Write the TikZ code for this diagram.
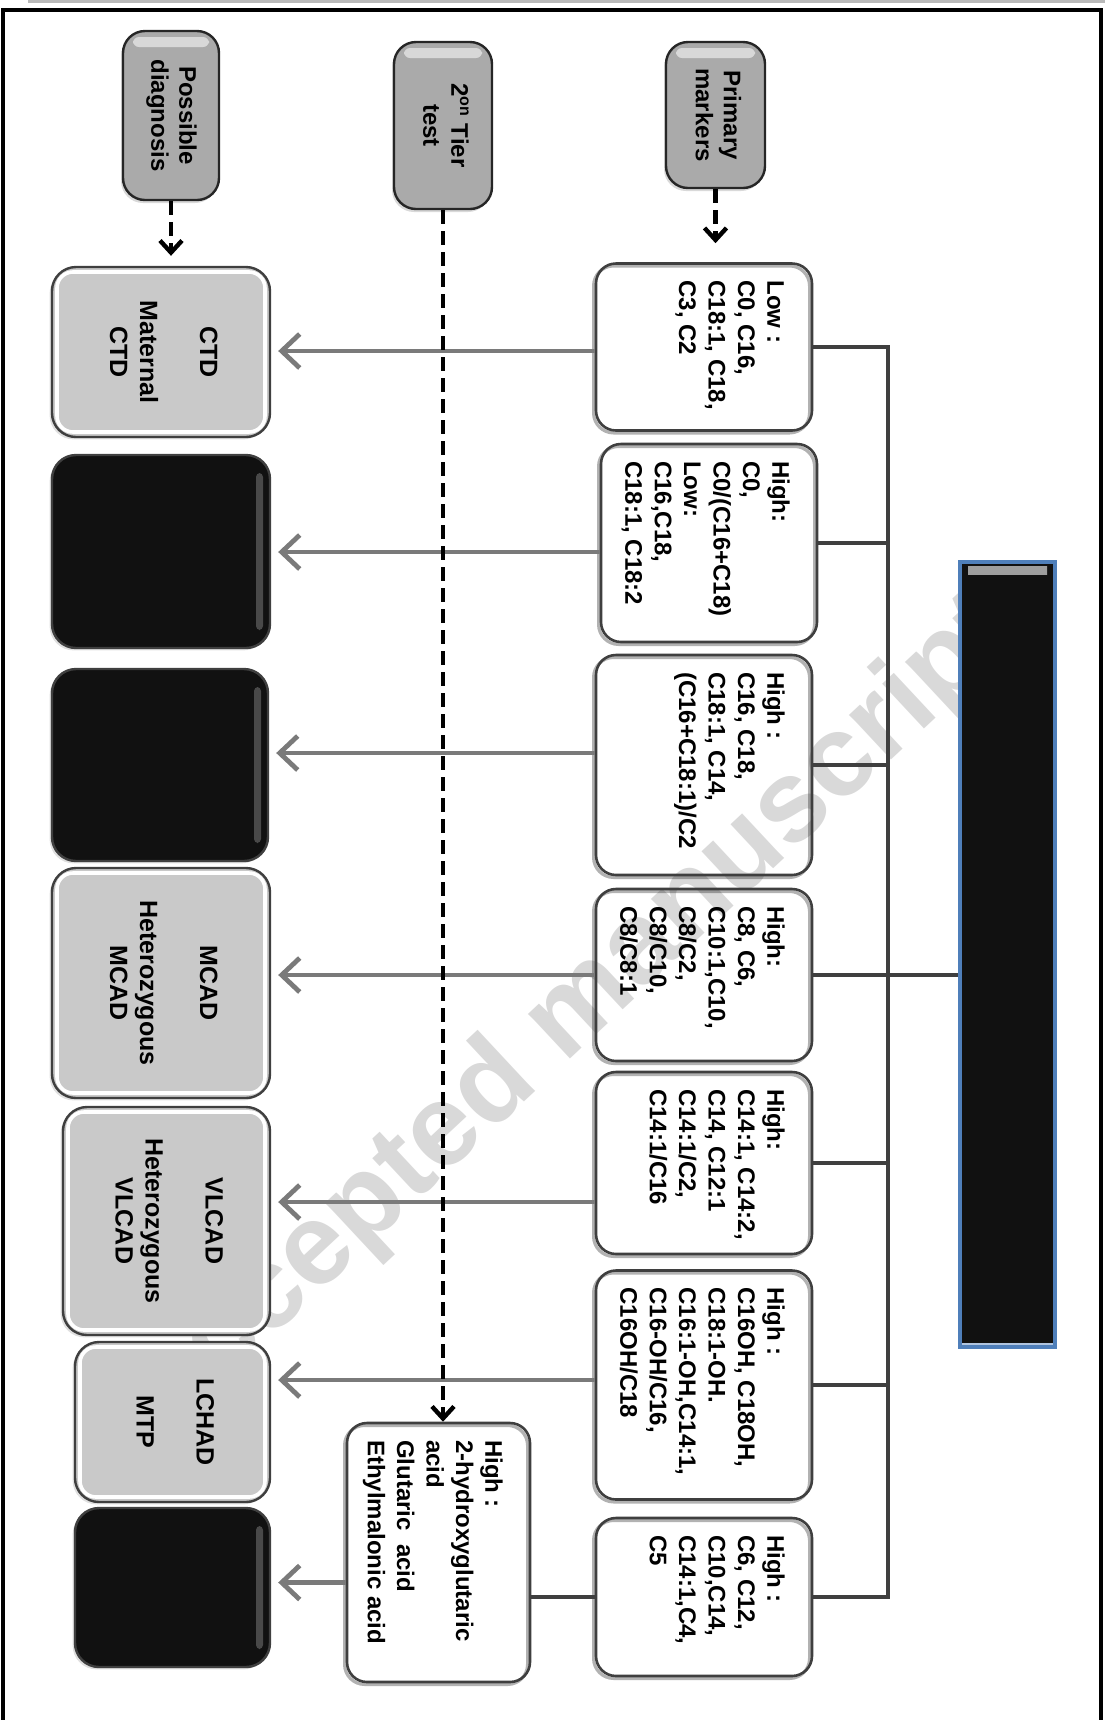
\documentclass[tikz,border=0pt]{standalone}
\usepackage{fontspec}
\setmainfont{Liberation Sans}
\usepackage{tikz}
\usetikzlibrary{arrows.meta,calc,shadows}
\usepackage{xcolor}
\definecolor{ink}{HTML}{111111}
\definecolor{rim}{HTML}{3F3F3F}
\definecolor{cap}{HTML}{AAAAAA}
\definecolor{dx}{HTML}{C9C9C9}
\definecolor{edge}{HTML}{4F7FBA}
\definecolor{wm}{HTML}{D9D9D9}
\newcommand{\mtext}[3]{\rotatebox{-90}{\parbox[c][#2][t]{#1}{\begin{tabular}[t]{@{}l@{}}#3\end{tabular}}}}
\newcommand{\dtext}[1]{\rotatebox{-90}{\begin{tabular}{@{}c@{}}#1\end{tabular}}}
\tikzset{header/.style={draw=black!85,line width=1.2pt,fill=cap,rounded corners=11pt,inner sep=0pt,font=\fontsize{12}{14}\selectfont\bfseries,drop shadow={shadow xshift=-1pt,shadow yshift=-1.5pt,opacity=.3},path picture={\fill[white,opacity=.55,rounded corners=3pt] ($(path picture bounding box.north west)+(5pt,-3pt)$) rectangle ($(path picture bounding box.north east)+(-5pt,-8pt)$);}},
 marker/.style={draw=rim,line width=1.3pt,rounded corners=10pt,inner xsep=12pt,inner ysep=8.5pt,font=\fontsize{12}{14.7}\selectfont\bfseries,drop shadow={shadow xshift=-1.2pt,shadow yshift=-1.2pt,opacity=.3,fill=none,draw=black,line width=1.6pt}},
 dxbox/.style={draw=rim,line width=1.2pt,fill=dx,rounded corners=12pt,inner sep=0pt,font=\fontsize{12.5}{15}\selectfont\bfseries,drop shadow={shadow xshift=-1.2pt,shadow yshift=-1.2pt,opacity=.25},path picture={\draw[white,line width=1.8pt,rounded corners=8pt] ($(path picture bounding box.south west)+(2.5pt,2.5pt)$) rectangle ($(path picture bounding box.north east)+(-2.5pt,-2.5pt)$);}},
 dxdark/.style={dxbox,fill=ink,path picture={\fill[gray!60,opacity=.35,rounded corners=2pt] ($(path picture bounding box.north east)+(-7pt,-9pt)$) rectangle ($(path picture bounding box.south east)+(-3.5pt,9pt)$);}},
 big/.style={draw=edge,line width=1.6pt,fill=ink,minimum width=47.5pt,minimum height=392.5pt,path picture={\shade[top color=gray!75,bottom color=ink] ($(path picture bounding box.north west)+(4pt,-2pt)$) rectangle ($(path picture bounding box.north east)+(-4pt,-6pt)$); \fill[edge!45] (path picture bounding box.south west) rectangle ($(path picture bounding box.south east)+(0pt,2pt)$);}},
 link/.style={draw=rim,line width=1.7pt},
 arr/.style={draw=black!52,line width=2.4pt,shorten >=3.5pt,-{Straight Barb[length=9pt,width=17pt]}},
 dasharr/.style={line width=2.2pt,dash pattern=on 7pt off 3.5pt,-{Straight Barb[length=6pt,width=11pt]}},
 wmtext/.style={text=wm,font=\fontsize{58}{60}\selectfont\bfseries,rotate=43}}
\begin{document}
\begin{tikzpicture}[x=.5pt,y=-.5pt]
\useasboundingbox (0,0) rectangle (1105,1720);
% frame
\draw[gray!55,line width=1.5pt] (28,1.5) -- (1105,1.5);
\draw[line width=2.2pt] (3,1720) -- (3,10) -- (1101,10) -- (1101,1720);
% watermark, under the boxes
\node[wmtext] (wm) at (570,1018) {Accepted manuscript};
% column headers
\node[header,minimum width=48pt,minimum height=84.5pt] (hPD) at (171,115.5) {\dtext{Possible\\ diagnosis}};
\node[header,minimum width=49pt,minimum height=83.5pt] (h2T) at (443,125.5) {\dtext{2\textsuperscript{on} Tier\\ test}};
\node[header,minimum width=49.5pt,minimum height=73pt] (hPM) at (715.5,115) {\dtext{Primary\\ markers}};
% primary markers
\node[marker] (m1) at (704,347) {\mtext{66.5pt}{84pt}{Low :\\ C0, C16,\\ C18:1, C18,\\ C3, C2}};
\node[marker] (m2) at (709,543) {\mtext{82pt}{84pt}{High:\\ C0,\\ C0/(C16+C18)\\ Low:\\ C16,C18,\\ C18:1, C18:2}};
\node[marker] (m3) at (704,765) {\mtext{93pt}{84pt}{High :\\ C16, C18,\\ C18:1, C14,\\ (C16+C18:1)/C2}};
\node[marker] (m4) at (704,975) {\mtext{69pt}{84pt}{High:\\ C8, C6,\\ C10:1,C10,\\ C8/C2,\\ C8/C10,\\ C8/C8:1}};
\node[marker] (m5) at (704,1163) {\mtext{74pt}{84pt}{High:\\ C14:1, C14:2,\\ C14, C12:1\\ C14:1/C2,\\ C14:1/C16}};
\node[marker] (m6) at (704,1385) {\mtext{97.5pt}{84pt}{High :\\ C16OH, C18OH,\\ C18:1-OH.\\ C16:1-OH,C14:1,\\ C16-OH/C16,\\ C16OH/C18}};
\node[marker] (m7) at (704,1597) {\mtext{62pt}{84pt}{High :\\ C6, C12,\\ C10,C14,\\ C14:1,C4,\\ C5}};
% second tier
\node[marker] (t2) at (438.5,1552.5) {\mtext{112.5pt}{67.5pt}{High :\\ 2-hydroxyglutaric\\ acid\\ Glutaric\ \ acid\\ Ethylmalonic acid}};
% diagnosis
\node[dxbox,minimum width=109pt,minimum height=85pt] (d1) at (161,352) {\dtext{CTD\\ \\ Maternal\\ CTD}};
\node[dxdark,minimum width=109pt,minimum height=96.5pt] (d2) at (161,551.5) {};
\node[dxdark,minimum width=108pt,minimum height=96pt] (d3) at (160,765) {};
\node[dxbox,minimum width=109pt,minimum height=115pt] (d4) at (161,983) {\dtext{MCAD\\ \\ Heterozygous\\ MCAD}};
\node[dxbox,minimum width=103.5pt,minimum height=114pt] (d5) at (166.5,1221) {\dtext{VLCAD\\ \\ Heterozygous\\ VLCAD}};
\node[dxbox,minimum width=97.5pt,minimum height=80pt] (d6) at (172.5,1422) {\dtext{LCHAD\\ \\ MTP}};
\node[dxdark,minimum width=97.5pt,minimum height=79.5pt] (d7) at (172.5,1587.5) {};
% right block
\node[big] (big) at (1007.5,954.5) {};
% bracket
\coordinate (spine) at (888,0);
\draw[link] (m1.east) -- (m1.east -| spine) -- (m7.east -| spine) -- (m7.east);
\foreach \i in {2,...,6} \draw[link] (m\i.east) -- (m\i.east -| spine);
\draw[link] (m4.east -| spine) -- (m4.east -| big.west);
\draw[link] (m7.west) -- (m7.west -| t2.east);
% arrows to diagnosis
\foreach \i/\dy in {1/4,2/9,3/-12,4/0,5/39,6/-5}{
 \coordinate (a\i) at ($(m\i.west)+(0,\dy)$);
 \draw[arr] (a\i) -- (a\i -| d\i.east);
}
\coordinate (a7) at ($(t2.west)+(0,30)$);
\draw[arr] (a7) -- (a7 -| d7.east);
% dashed flow
\draw[dasharr,shorten >=5pt] (hPD.south) -- (hPD.south |- d1.north);
\draw[dasharr,shorten >=9.5pt] (hPM.south) -- (hPM.south |- m1.north);
\draw[dasharr] (h2T.south) -- (h2T.south |- t2.north);
\end{tikzpicture}
\end{document}
